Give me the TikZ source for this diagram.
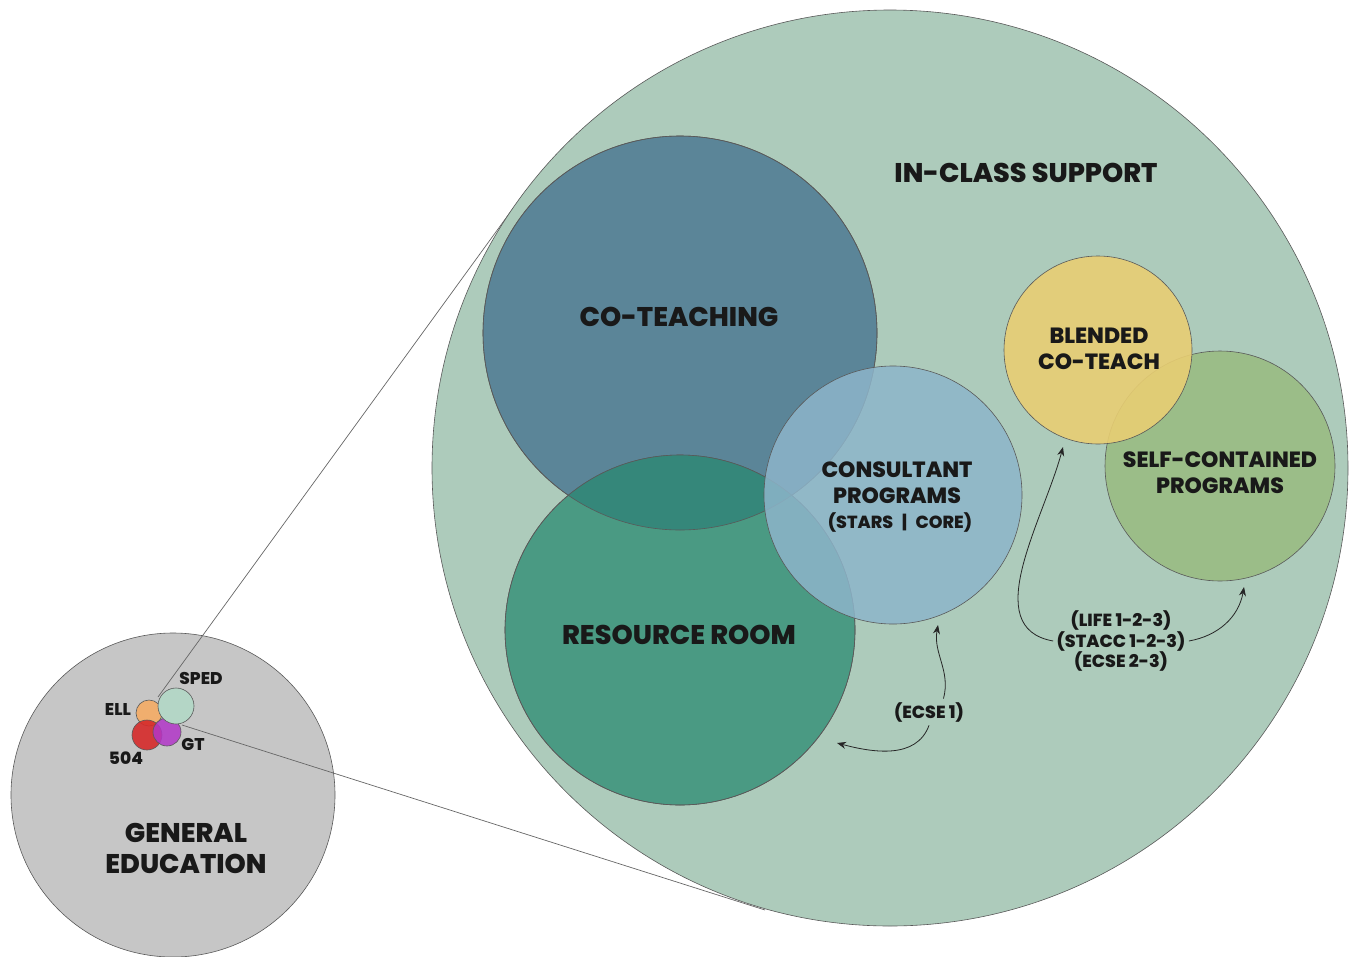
\documentclass[tikz,border=0pt]{standalone}
\usepackage{fontspec}
\setmainfont{Poppins}[BoldFont={Poppins ExtraBold}]
\usetikzlibrary{arrows.meta}

\definecolor{classbg}{HTML}{ADCBBB}
\definecolor{coteach}{HTML}{5B8598}
\definecolor{resource}{HTML}{4A9A83}
\definecolor{overlapcr}{HTML}{35877A}
\definecolor{consult}{HTML}{8DB5CA}
\definecolor{blended}{HTML}{E8CE73}
\definecolor{selfcont}{HTML}{9BBD88}
\definecolor{gened}{HTML}{C6C6C6}
\definecolor{sped}{HTML}{B4D6C6}
\definecolor{ell}{HTML}{F0AE6E}
\definecolor{fivezerofour}{HTML}{D62A2A}
\definecolor{gifted}{HTML}{B236C8}

\tikzset{
  ring/.style={draw=black!65, line width=0.6pt},
  biglbl/.style={font=\bfseries\fontsize{27}{31}\selectfont, align=center, text=black!90},
  midlbl/.style={font=\bfseries\fontsize{22}{26}\selectfont, align=center, text=black!90},
  smalllbl/.style={font=\bfseries\fontsize{17.5}{20.5}\selectfont, align=center, text=black!90},
  tinylbl/.style={font=\bfseries\fontsize{17}{20}\selectfont, text=black!90},
  jump/.style={-{Stealth[length=9pt,width=7pt]}, line width=0.8pt, black!85},
  zoomline/.style={black!60, line width=0.7pt}
}

\begin{document}
\begin{tikzpicture}[x=1pt,y=-1pt]
    \useasboundingbox (0,0) rectangle (1352,956);
    % general education and the small groups
    \filldraw[ring, fill=gened] (173,795) circle (162);
    \filldraw[ring, fill=ell] (149,713) circle (13);
    \filldraw[ring, fill=fivezerofour, fill opacity=0.9] (147,735) circle (15);
    \filldraw[ring, fill=gifted, fill opacity=0.85] (167,732) circle (14);
    \filldraw[ring, fill=sped] (176,706) circle (18);
    \node[tinylbl] (spedlbl) at (201,678) {SPED};
    \node[tinylbl] (elllbl) at (118,709) {ELL};
    \node[tinylbl] (fivelbl) at (126,758) {504};
    \node[tinylbl] (gtlbl) at (193,744) {GT};
    \node[biglbl] (gened) at (186,848) {GENERAL\\EDUCATION};

    % zoom lines
    \coordinate (zoomA) at (158,697);
    \coordinate (zoomB) at (182,725);
    \coordinate (tanA) at (514,207);
    \coordinate (tanB) at (765,910);
    \draw[zoomline] (zoomA) -- (tanA);
    \draw[zoomline] (zoomB) -- (tanB);

    % in-class support
    \filldraw[ring, fill=classbg] (890,468) circle (458);
    \node[biglbl] (inclass) at (1026,173) {IN-CLASS SUPPORT};

    \filldraw[ring, fill=coteach] (680,333) circle (197);
    \filldraw[ring, fill=resource] (680,630) circle (175);
    \begin{scope}
      \clip (680,333) circle (197);
      \fill[overlapcr] (680,630) circle (175);
    \end{scope}
    \draw[ring] (680,333) circle (197);
    \draw[ring] (680,630) circle (175);
    \filldraw[ring, fill=consult, fill opacity=0.85] (893,495) circle (129);

    \filldraw[ring, fill=selfcont] (1220,466) circle (115);
    \filldraw[ring, fill=blended, fill opacity=0.9] (1098,350) circle (94);

    \node[biglbl] (coteachlbl) at (679,317) {CO-TEACHING};
    \node[biglbl] (resourcelbl) at (679,635) {RESOURCE ROOM};
    \node[midlbl] (consultlbl) at (897,483) {CONSULTANT\\PROGRAMS};
    \node[smalllbl] (starslbl) at (900,522) {(STARS\enspace|\enspace CORE)};
    \node[midlbl] (blendedlbl) at (1099,349) {BLENDED\\CO-TEACH};
    \node[midlbl] (selflbl) at (1220,473) {SELF-CONTAINED\\PROGRAMS};

    % placement notes
    \node[smalllbl] (ecse) at (929,712) {(ECSE 1)};
    \node[smalllbl] (life) at (1121,641) {(LIFE 1-2-3)\\(STACC 1-2-3)\\(ECSE 2-3)};
    \draw[jump] ([xshift=-24pt]ecse.north east) to[out=75,in=-100] (938,625);
    \draw[jump] (ecse.south) to[out=-110,in=-15] (837,743);
    \draw[jump] (life.west) to[out=170,in=-105] (1063,447);
    \draw[jump] (life.east) to[out=10,in=-100] (1244,587);
\end{tikzpicture}
\end{document}
